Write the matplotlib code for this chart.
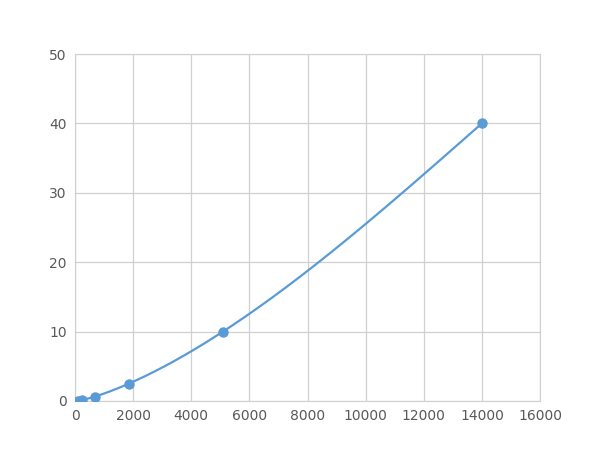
import numpy as np
import matplotlib
matplotlib.use('Agg')
import matplotlib.pyplot as plt

# concentration vs signal
conc = [89, 245, 673, 1851, 5091, 14000]
signal = [0.039, 0.156, 0.625, 2.5, 10, 40]

xticks = [0, 2000, 4000, 6000, 8000, 10000, 12000, 14000, 16000]
yticks = [0, 10, 20, 30, 40, 50]

LINE = '#5B9BD5'
GRID = '#D0D0D0'
TEXT = '#595959'


def natural_spline(xs, ys, n=400):
    # plain natural cubic spline through the points
    x = np.asarray(xs, float)
    y = np.asarray(ys, float)
    k = len(x)
    h = np.diff(x)
    A = np.zeros((k, k))
    r = np.zeros(k)
    A[0, 0] = A[-1, -1] = 1
    for i in range(1, k - 1):
        A[i, i - 1] = h[i - 1]
        A[i, i] = 2 * (h[i - 1] + h[i])
        A[i, i + 1] = h[i]
        r[i] = 6 * ((y[i + 1] - y[i]) / h[i] - (y[i] - y[i - 1]) / h[i - 1])
    m = np.linalg.solve(A, r)
    xx = np.linspace(x[0], x[-1], n)
    idx = np.clip(np.searchsorted(x, xx) - 1, 0, k - 2)
    a = x[idx + 1] - xx
    b = xx - x[idx]
    hi = h[idx]
    yy = (m[idx] * a ** 3 / (6 * hi) + m[idx + 1] * b ** 3 / (6 * hi)
          + (y[idx] / hi - m[idx] * hi / 6) * a
          + (y[idx + 1] / hi - m[idx + 1] * hi / 6) * b)
    return xx, yy


def main():
    fig = plt.figure(figsize=(6, 4.5), dpi=100)
    ax = fig.add_axes([75 / 600, 1 - 401 / 450, 465 / 600, 347 / 450])

    sx, sy = natural_spline(conc, signal)
    ax.plot(sx, sy, color=LINE, lw=1.6, zorder=3)
    ax.plot(conc, signal, 'o', color=LINE, ms=6.5, zorder=4)

    ax.set_xlim(0, 16000)
    ax.set_ylim(0, 50)
    ax.set_xticks(xticks)
    ax.set_yticks(yticks)
    ax.grid(True, color=GRID, lw=0.9)
    ax.set_axisbelow(True)
    for s in ax.spines.values():
        s.set_color(GRID)
    ax.tick_params(length=0, colors=TEXT, labelsize=10, pad=6)

    fig.savefig('out.png', dpi=100)


if __name__ == '__main__':
    main()
